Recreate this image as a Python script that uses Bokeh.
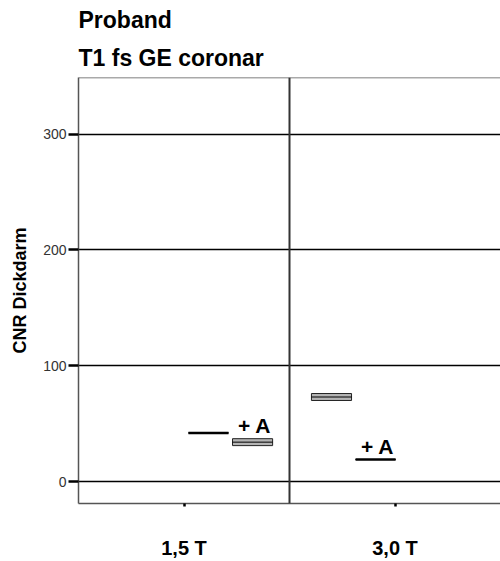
from bokeh.plotting import figure
from bokeh.models import Range1d, Span, Title, FixedTicker, ColumnDataSource
from bokeh.core.properties import value
from bokeh.embed import file_html
from bokeh.resources import INLINE

# ---- data ----
categories = ["1,5 T", "3,0 T"]
groups = ["ohne", "+ A"]
q1_ohne = [42, 70]
med_ohne = [42, 73]
q3_ohne = [42, 76]
q1_a = [31, 19]
med_a = [34, 19]
q3_a = [37, 19]
y_ticks = [0, 100, 200, 300]
label_a = "+ A"

# ---- layout constants ----
cat_centers = [0.5, 1.5]
ohne_shift = [0.116, -0.301]
a_shift = [0.325, -0.092]
box_w = 0.19
FONT = "Liberation Sans"

p = figure(width=500, height=561, output_backend="svg", toolbar_location=None,
           x_range=Range1d(0, 2), y_range=Range1d(-19, 349),
           min_border_left=78, min_border_right=0, min_border_top=0, min_border_bottom=0,
           title=None)
p.outline_line_color = None
p.background_fill_color = "white"
p.border_fill_color = "white"

t2 = Title(text="T1 fs GE coronar", align="left", text_font=FONT, text_font_size="23px",
           text_font_style="bold", text_color="black", standoff=13, offset=0)
t1 = Title(text="Proband", align="left", text_font=FONT, text_font_size="23px",
           text_font_style="bold", text_color="black", standoff=8, offset=0)
p.add_layout(t2, "above")
p.add_layout(t1, "above")

# grid
p.xgrid.grid_line_color = None
p.ygrid.grid_line_color = "black"
p.ygrid.grid_line_width = 1.5
p.ygrid.ticker = FixedTicker(ticks=y_ticks)

# y axis
p.yaxis.ticker = FixedTicker(ticks=y_ticks)
p.yaxis.axis_label = "CNR Dickdarm"
p.yaxis.axis_label_text_font = FONT
p.yaxis.axis_label_text_font_size = "18px"
p.yaxis.axis_label_text_font_style = "bold"
p.yaxis.axis_label_text_color = "black"
p.yaxis.axis_label_standoff = 10
p.yaxis.major_label_text_font = FONT
p.yaxis.major_label_text_font_size = "14px"
p.yaxis.major_label_text_color = "#333333"
p.yaxis.major_label_standoff = 2
p.yaxis.major_tick_out = 10
p.yaxis.major_tick_in = 0
p.yaxis.major_tick_line_color = "black"
p.yaxis.major_tick_line_width = 2.5
p.yaxis.minor_tick_line_color = None
p.yaxis.axis_line_color = "#555555"
p.yaxis.axis_line_width = 1.5

# x axis
p.xaxis.ticker = FixedTicker(ticks=cat_centers)
p.xaxis.major_label_overrides = {c: lab for c, lab in zip(cat_centers, categories)}
p.xaxis.major_label_text_font = FONT
p.xaxis.major_label_text_font_size = "20px"
p.xaxis.major_label_text_font_style = "bold"
p.xaxis.major_label_text_color = "black"
p.xaxis.major_label_standoff = 30
p.xaxis.major_tick_out = 3
p.xaxis.major_tick_in = 0
p.xaxis.major_tick_line_color = "black"
p.xaxis.major_tick_line_width = 2.5
p.xaxis.minor_tick_line_color = None
p.xaxis.axis_line_color = "#555555"
p.xaxis.axis_line_width = 1.5

# top border and panel divider
p.add_layout(Span(location=349, dimension="width", line_color="#555555", line_width=1.5))
p.add_layout(Span(location=1, dimension="height", line_color="#333333", line_width=2))

# boxes
xs, q1s, meds, q3s = [], [], [], []
for i in range(len(categories)):
    xs += [cat_centers[i] + ohne_shift[i], cat_centers[i] + a_shift[i]]
    q1s += [q1_ohne[i], q1_a[i]]
    meds += [med_ohne[i], med_a[i]]
    q3s += [q3_ohne[i], q3_a[i]]
src = ColumnDataSource(dict(
    left=[x - box_w / 2 for x in xs], right=[x + box_w / 2 for x in xs],
    q1=q1s, med=meds, q3=q3s,
    mw=[2.5 if a == b else 1.0 for a, b in zip(q1s, q3s)],
))
p.quad(left="left", right="right", bottom="q1", top="q3", source=src,
       fill_color="#b4b4b4", line_color="#222222", line_width=1)
p.segment(x0="left", x1="right", y0="med", y1="med", source=src,
          line_color="black", line_width="mw")

# "+ A" labels above the + A boxes
lab_src = ColumnDataSource(dict(
    x=[cat_centers[i] + a_shift[i] for i in range(len(categories))],
    y=q3_a, t=[label_a] * len(categories)))
p.text(x="x", y="y", text="t", source=lab_src, text_align="center",
       text_baseline="alphabetic", y_offset=-13, x_offset=2,
       text_font=value(FONT), text_font_size="21px", text_font_style="bold",
       text_color="black")

open("out.html", "w").write(file_html(p, INLINE))
